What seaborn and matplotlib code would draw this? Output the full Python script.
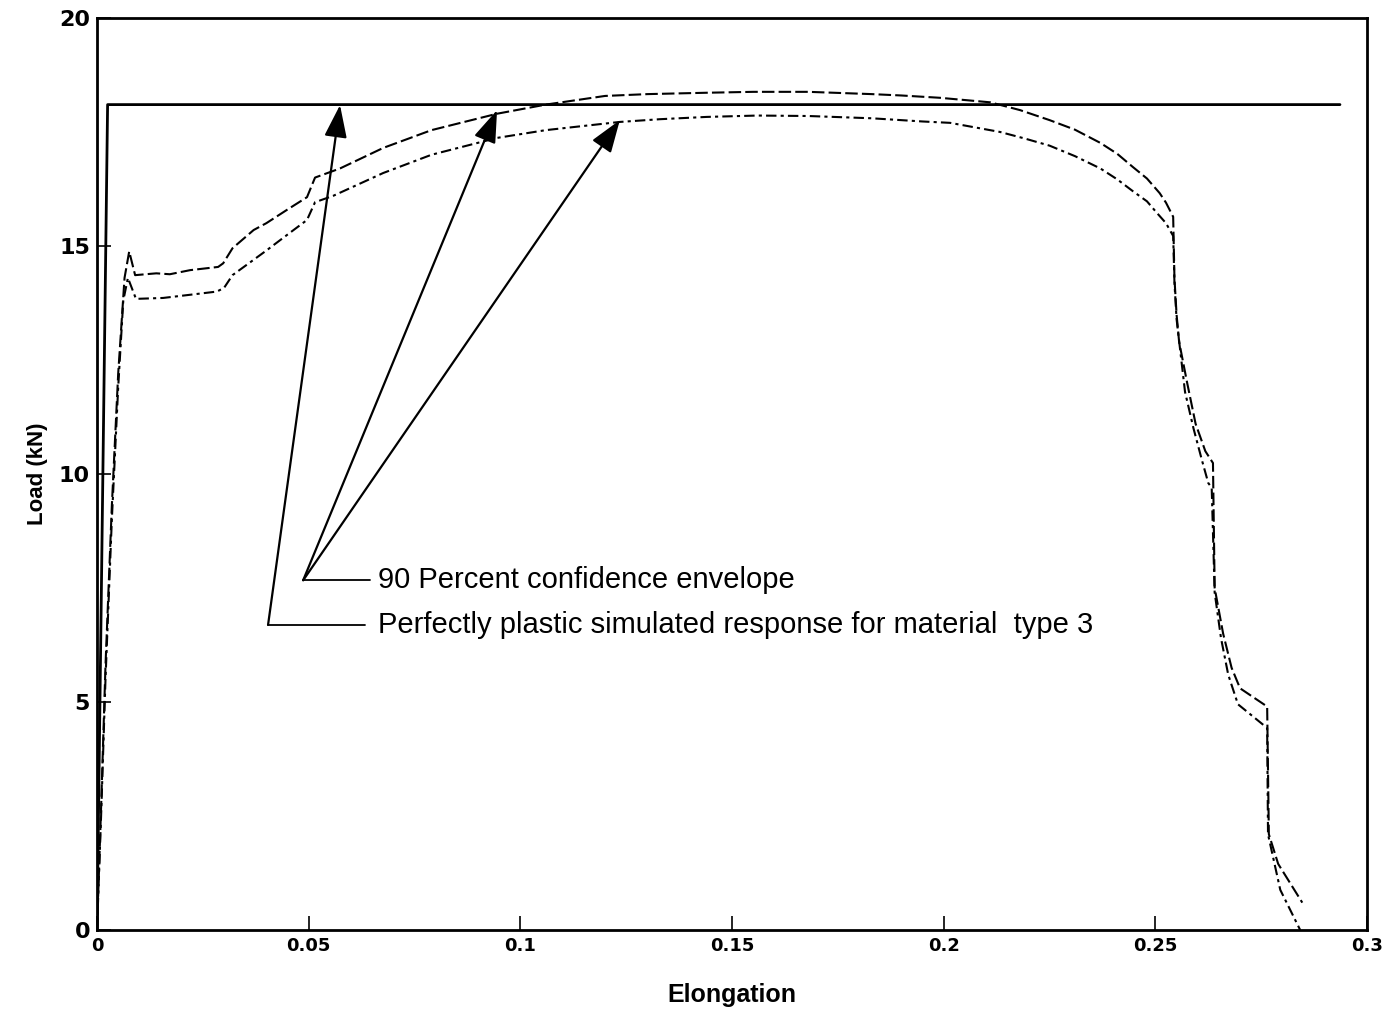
import numpy as np
import pandas as pd
import seaborn as sns
import matplotlib
matplotlib.use("Agg")
import matplotlib.pyplot as plt

# Perfectly plastic simulated response (material type 3)
plastic_elong = [0.0, 0.0025, 0.2936]
plastic_load = [0.0, 18.10, 18.10]

# Upper bound of the 90 percent confidence envelope
upper_elong = [0.0, 0.001, 0.002, 0.0035, 0.005, 0.0065, 0.0076, 0.009, 0.014, 0.0172,
               0.022, 0.0286, 0.0298, 0.032, 0.037, 0.040, 0.045, 0.0496, 0.0515, 0.0574,
               0.0676, 0.079, 0.0945, 0.106, 0.120, 0.130, 0.144, 0.155, 0.168, 0.183,
               0.190, 0.199, 0.211, 0.218, 0.225, 0.231, 0.237, 0.241, 0.2447, 0.248,
               0.251, 0.2525, 0.2542, 0.2545, 0.2550, 0.2556,
               0.2575, 0.2595, 0.2618, 0.2636, 0.2640, 0.2660, 0.2680, 0.2700,
               0.2764, 0.2768, 0.2790, 0.2847]
upper_load = [0.0, 2.8, 5.8, 9.3, 12.2, 14.3, 14.88, 14.36, 14.40, 14.38,
              14.47, 14.54, 14.62, 14.95, 15.35, 15.50, 15.80, 16.07, 16.50, 16.70,
              17.15, 17.54, 17.90, 18.10, 18.29, 18.33, 18.36, 18.38, 18.38, 18.33,
              18.30, 18.25, 18.15, 17.98, 17.76, 17.55, 17.26, 17.02, 16.73, 16.48,
              16.16, 15.95, 15.64, 14.30, 13.50, 12.90,
              12.00, 11.10, 10.50, 10.24, 7.50, 6.50, 5.75, 5.30,
              4.90, 2.10, 1.45, 0.60]

# Lower bound of the 90 percent confidence envelope
lower_elong = [0.0, 0.001, 0.002, 0.0035, 0.005, 0.0062, 0.0073, 0.0092, 0.0156, 0.022,
               0.0283, 0.030, 0.032, 0.040, 0.045, 0.0496, 0.0515, 0.0558, 0.0676, 0.079,
               0.0945, 0.106, 0.1235, 0.133, 0.144, 0.156, 0.168, 0.183, 0.195, 0.2015,
               0.2133, 0.219, 0.225, 0.231, 0.237, 0.241, 0.2447, 0.248, 0.2504,
               0.2525, 0.2542, 0.2545, 0.2550, 0.2560, 0.2570,
               0.2590, 0.2610, 0.2625, 0.2633, 0.2640, 0.2655, 0.2672, 0.2695,
               0.2764, 0.2766, 0.2795, 0.2842]
lower_load = [0.0, 2.6, 5.5, 9.0, 11.9, 13.8, 14.30, 13.84, 13.86, 13.93,
              14.00, 14.08, 14.36, 14.90, 15.25, 15.57, 15.96, 16.10, 16.60, 17.00,
              17.37, 17.54, 17.72, 17.78, 17.83, 17.86, 17.85, 17.80, 17.73, 17.70,
              17.50, 17.36, 17.20, 16.97, 16.70, 16.46, 16.20, 15.98, 15.72,
              15.50, 15.22, 14.20, 13.40, 12.60, 11.80,
              11.00, 10.30, 9.80, 9.70, 7.40, 6.40, 5.60, 4.95,
              4.43, 2.10, 0.88, 0.0]

# Callout text, leader elbows and arrow targets
labels = ["90 Percent confidence envelope",
          "Perfectly plastic simulated response for material  type 3"]
leader_start = [(0.0487, 7.67), (0.0404, 6.69)]
leader_end_x = [0.0645, 0.0633]
text_x = 0.0664
arrow_targets = [[(0.0945, 17.98), (0.1235, 17.76)], [(0.0574, 18.09)]]

sns.set_theme(style="white")
plt.rcParams["font.family"] = ["Liberation Sans", "DejaVu Sans"]
plt.rcParams["text.color"] = "black"
plt.rcParams["axes.labelcolor"] = "black"
plt.rcParams["xtick.color"] = "black"
plt.rcParams["ytick.color"] = "black"

fig = plt.figure(figsize=(13.9, 10.09), dpi=100)
ax = fig.add_axes([0.0698, 0.0783, 0.9137, 0.9039])

df_plastic = pd.DataFrame({"Elongation": plastic_elong, "Load": plastic_load})
df_upper = pd.DataFrame({"Elongation": upper_elong, "Load": upper_load})
df_lower = pd.DataFrame({"Elongation": lower_elong, "Load": lower_load})

sns.lineplot(data=df_plastic, x="Elongation", y="Load", ax=ax, sort=False,
             estimator=None, color="black", linewidth=2.0)
sns.lineplot(data=df_upper, x="Elongation", y="Load", ax=ax, sort=False,
             estimator=None, color="black", linewidth=1.5, linestyle=(0, (6, 2)))
sns.lineplot(data=df_lower, x="Elongation", y="Load", ax=ax, sort=False,
             estimator=None, color="black", linewidth=1.5, linestyle=(0, (5, 2, 1.5, 2)))

# Callouts: horizontal leader to the text plus arrows to the curves
for lab, (sx, sy), ex, targets in zip(labels, leader_start, leader_end_x, arrow_targets):
    ax.plot([sx, ex], [sy, sy], color="black", linewidth=1.3)
    ax.text(text_x, sy, lab, fontsize=21, va="center", ha="left", color="black")
    for tx, ty in targets:
        ax.annotate("", xy=(tx, ty), xytext=(sx, sy),
                    arrowprops=dict(arrowstyle="-|>,head_length=1.0,head_width=0.35",
                                    mutation_scale=20, color="black", lw=1.6,
                                    shrinkA=0, shrinkB=0))

ax.set_xlim(0, 0.3)
ax.set_ylim(0, 20)
ax.set_xticks([0, 0.05, 0.1, 0.15, 0.2, 0.25, 0.3])
ax.set_xticklabels(["0", "0.05", "0.1", "0.15", "0.2", "0.25", "0.3"])
ax.set_yticks([0, 5, 10, 15, 20])
ax.set_yticklabels(["0", "5", "10", "15", "20"])
ax.tick_params(axis="both", direction="in", length=10, width=1.2, color="black",
               labelcolor="black", pad=5, left=True, bottom=True, top=False, right=False)
for lab in ax.get_xticklabels():
    lab.set_fontfamily(["DejaVu Sans"])
    lab.set_fontweight("bold")
    lab.set_fontsize(13)
for lab in ax.get_yticklabels():
    lab.set_fontfamily(["DejaVu Sans"])
    lab.set_fontweight("bold")
    lab.set_fontsize(16)

ax.set_xlabel("Elongation", fontsize=18, fontweight="bold", labelpad=20, color="black")
ax.set_ylabel("Load (kN)", fontsize=16, fontweight="bold", labelpad=8, color="black")

for sp in ax.spines.values():
    sp.set_visible(True)
    sp.set_color("black")
    sp.set_linewidth(2.0)

fig.savefig("out.png", dpi=100, facecolor="white")
